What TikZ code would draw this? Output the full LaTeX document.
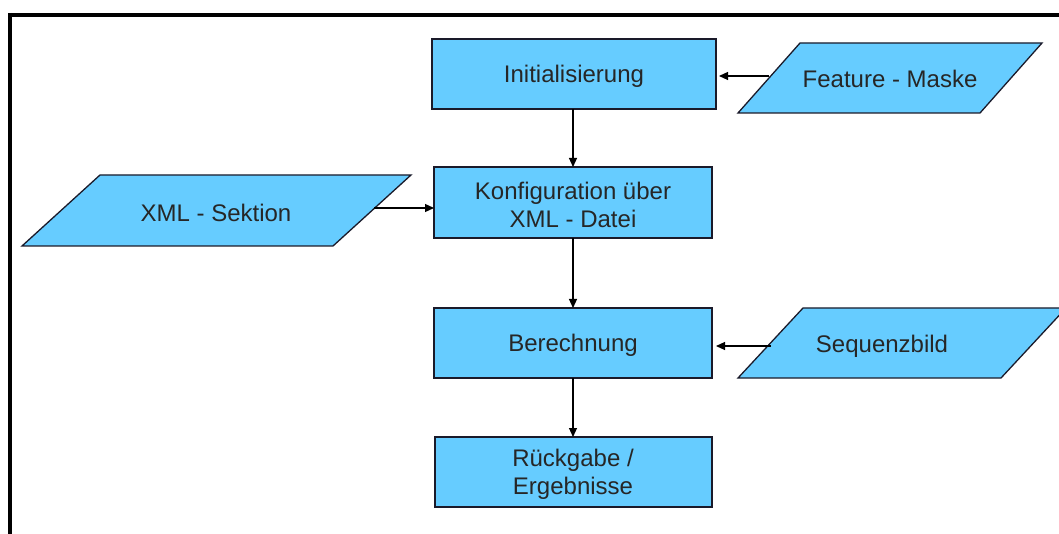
\documentclass[tikz,border=0pt]{standalone}
\usepackage{fontspec}
\setmainfont{Liberation Sans}
\usetikzlibrary{arrows.meta,calc}
\definecolor{boxblue}{HTML}{66CCFF}
\definecolor{edge}{HTML}{1A1A2A}
\tikzset{
  procbox/.style={draw=edge,line width=1.3pt,fill=boxblue},
  iobox/.style={draw=edge,line width=1.3pt,fill=boxblue},
  label/.style={font=\fontsize{24}{28}\selectfont,align=center,text=black!85,inner sep=0pt},
  flow/.style={line width=1.2pt,-{Triangle[length=9pt,width=8pt]}},
  frame/.style={line width=4pt,black}
}
\begin{document}
\begin{tikzpicture}[x=1pt,y=-1pt]
\useasboundingbox (0,0) rectangle (1059,534);
% outer frame (top and left edges)
\draw[frame] (8,15) -- (1062,15);
\draw[frame] (10,13) -- (10,540);

% process boxes
\draw[procbox] (432,39) rectangle (716,109);
\node[label] (init) at (574,76) {Initialisierung};
\coordinate (init-s) at (573,109);
\coordinate (init-e) at (716,76);

\draw[procbox] (434,167) rectangle (712,238);
\node[label] (konf) at (573,205) {Konfiguration über\\XML - Datei};
\coordinate (konf-n) at (573,167);
\coordinate (konf-s) at (573,238);
\coordinate (konf-w) at (434,208);

\draw[procbox] (434,308) rectangle (712,378);
\node[label] (ber) at (573,345) {Berechnung};
\coordinate (ber-n) at (573,308);
\coordinate (ber-s) at (573,378);
\coordinate (ber-e) at (712,346);

\draw[procbox] (435,437) rectangle (712,507);
\node[label] (rueck) at (573,474) {Rückgabe /\\Ergebnisse};
\coordinate (rueck-n) at (573,437);

% data (parallelogram) boxes
\draw[iobox] (738,113) -- (800,43) -- (1042,43) -- (980,113) -- cycle;
\node[label] (feat) at (890,79) {Feature - Maske};
\coordinate (feat-w) at (769,76);

\draw[iobox] (22,246) -- (100,175) -- (411,175) -- (333,246) -- cycle;
\node[label] (xml) at (216,213) {XML - Sektion};
\coordinate (xml-e) at (374,208);

\draw[iobox] (738,378) -- (803,308) -- (1066,308) -- (1001,378) -- cycle;
\node[label] (seq) at (882,346) {Sequenzbild};
\coordinate (seq-w) at (771,346);

% connectors
\draw[flow] (init-s) -- (konf-n);
\draw[flow] (konf-s) -- (ber-n);
\draw[flow] (ber-s) -- (rueck-n);
\draw[flow,shorten >=3pt] (feat-w) -- (init-e);
\draw[flow] (xml-e) -- (konf-w);
\draw[flow,shorten >=4pt] (seq-w) -- (ber-e);
\end{tikzpicture}
\end{document}
